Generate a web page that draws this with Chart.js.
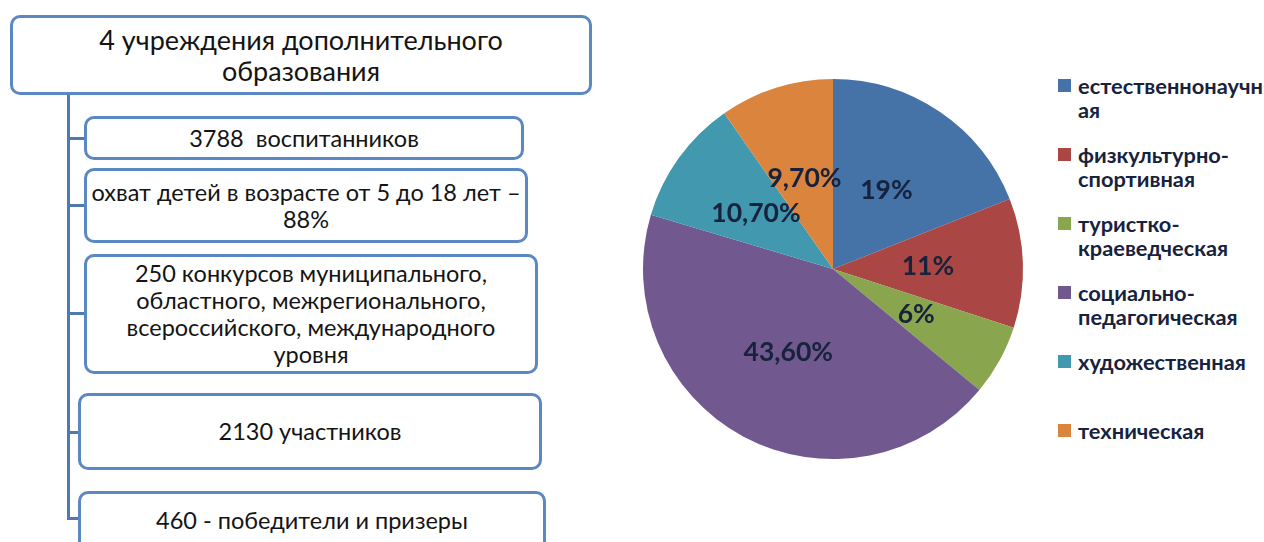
<!DOCTYPE html>
<html lang="ru">
<head>
<meta charset="utf-8">
<title>Дополнительное образование</title>
<script src="https://cdn.jsdelivr.net/npm/chart.js@4.4.1/dist/chart.umd.min.js"></script>
<style>
  html, body { margin: 0; padding: 0; background: #fff; }
  body {
    width: 1264px; height: 542px; position: relative; overflow: hidden;
    font-family: Lato, "Open Sans", sans-serif; color: #141414;
  }
  .box {
    position: absolute; box-sizing: border-box;
    border: 3px solid #5b87c2; border-radius: 10px; background: #fff;
    display: flex; align-items: center; justify-content: center;
    text-align: center; font-size: 23.5px; line-height: 27px;
  }
  .top { left: 10px; top: 15px; width: 582px; height: 80px; font-size: 27px; line-height: 31px; }
  .line { position: absolute; background: #4f79b0; }
  #pieWrap { position: absolute; left: 633px; top: 69px; width: 400px; height: 400px; }
  #legend {
    position: absolute; left: 1058px; top: 74px; width: 206px;
    font-weight: bold; font-size: 21.8px; line-height: 24px; color: #17223d;
  }
  #legend .item { display: flex; align-items: flex-start; height: 69px; }
  #legend .swatch { flex: none; width: 13px; height: 13px; margin: 5px 7px 0 0; }
  #legend .text { overflow-wrap: anywhere; min-width: 0; }
</style>
</head>
<body>
  <div class="box top">4 учреждения дополнительного<br>образования</div>

  <!-- соединительные линии -->
  <div class="line" style="left:67px; top:95px; width:3px; height:425px;"></div>
  <div class="line" style="left:67px; top:137px; width:17px; height:3px;"></div>
  <div class="line" style="left:67px; top:204px; width:17px; height:3px;"></div>
  <div class="line" style="left:67px; top:312px; width:17px; height:3px;"></div>
  <div class="line" style="left:67px; top:431px; width:11px; height:3px;"></div>
  <div class="line" style="left:67px; top:517px; width:11px; height:3px;"></div>

  <div class="box" style="left:84px; top:116px; width:440px; height:44px;">3788&nbsp; воспитанников</div>
  <div class="box" style="left:84px; top:168px; width:444px; height:75px;">охват детей в возрасте от 5 до 18 лет –<br>88%</div>
  <div class="box" style="left:84px; top:254px; width:454px; height:120px;">250 конкурсов муниципального,<br>областного, межрегионального,<br>всероссийского, международного<br>уровня</div>
  <div class="box" style="left:78px; top:393px; width:464px; height:77px;">2130 участников</div>
  <div class="box" style="left:78px; top:491px; width:468px; height:70px; align-items:flex-start; padding-top:13px;">460 - победители и призеры</div>

  <div id="pieWrap"><canvas id="pie"></canvas></div>
  <div id="legend"></div>

<script>
  // направленности программ и их доли, %
  const directions = [
    "естественнонаучная",
    "физкультурно-спортивная",
    "туристко-краеведческая",
    "социально-педагогическая",
    "художественная",
    "техническая",
  ];
  const shares = [19, 11, 6, 43.6, 10.7, 9.7];
  const shareDecimals = [0, 0, 0, 2, 2, 2];
  const colors = ["#4572a7", "#aa4643", "#89a54e", "#71588f", "#4198af", "#db843d"];

  function formatShare(v, d) {
    return v.toFixed(d).replace(".", ",") + "%";
  }

  // подписи долей внутри секторов
  const sliceLabels = {
    id: "sliceLabels",
    afterDatasetsDraw(chart) {
      const ctx = chart.ctx;
      const meta = chart.getDatasetMeta(0);
      ctx.save();
      ctx.font = 'bold 26.5px Lato, "Open Sans", sans-serif';
      ctx.fillStyle = "#17223d";
      ctx.textAlign = "center";
      ctx.textBaseline = "middle";
      meta.data.forEach((arc, i) => {
        const p = arc.tooltipPosition();
        ctx.fillText(formatShare(shares[i], shareDecimals[i]), p.x, p.y);
      });
      ctx.restore();
    },
  };

  new Chart(document.getElementById("pie"), {
    type: "pie",
    data: {
      labels: directions,
      datasets: [
        {
          data: shares,
          backgroundColor: colors,
          borderWidth: 0,
        },
      ],
    },
    options: {
      responsive: true,
      maintainAspectRatio: false,
      animation: false,
      layout: { padding: 10 },
      plugins: {
        legend: { display: false },
        tooltip: { enabled: false },
      },
    },
    plugins: [sliceLabels],
  });

  // легенда справа от диаграммы
  const legend = document.getElementById("legend");
  directions.forEach((name, i) => {
    const item = document.createElement("div");
    item.className = "item";
    const sw = document.createElement("span");
    sw.className = "swatch";
    sw.style.background = colors[i];
    const txt = document.createElement("span");
    txt.className = "text";
    txt.textContent = name;
    item.appendChild(sw);
    item.appendChild(txt);
    legend.appendChild(item);
  });
</script>
</body>
</html>
